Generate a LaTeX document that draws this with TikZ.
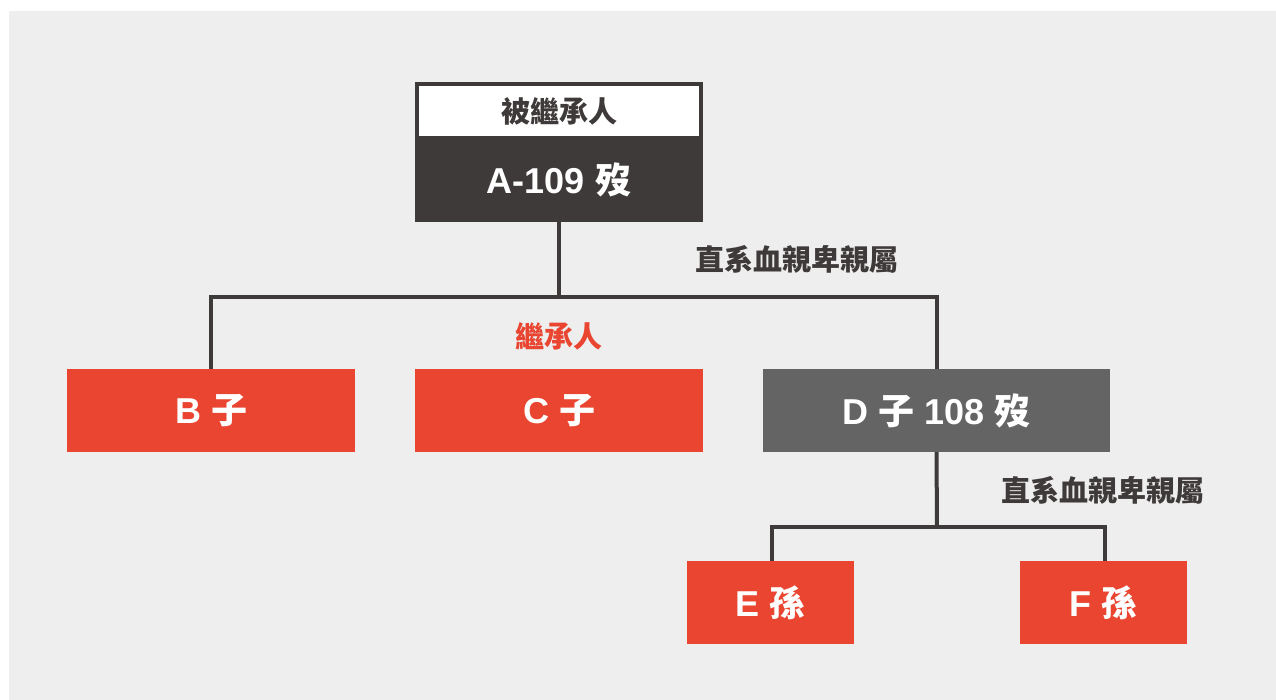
\documentclass[tikz,border=0pt]{standalone}
\usepackage{fontspec}
\setmainfont{Liberation Sans}
\newfontfamily\cjk{Noto Sans CJK TC}
\definecolor{bgc}{HTML}{EEEEEE}
\definecolor{darkc}{HTML}{3E3A39}
\definecolor{redc}{HTML}{E94530}
\definecolor{grayc}{HTML}{646464}
\tikzset{
  box/.style={inner sep=0pt, minimum height=83pt, text=white, font=\fontsize{36}{40}\selectfont\bfseries},
  redbox/.style={box, fill=redc},
  conn/.style={draw=darkc, line width=4pt},
  lbl/.style={inner sep=0pt, text=darkc, font=\fontsize{29}{32}\selectfont\cjk\bfseries},
}
\begin{document}
\begin{tikzpicture}[x=1pt,y=-1pt]
\useasboundingbox (0,0) rectangle (1276,700);
\fill[white] (0,0) rectangle (1276,700);
\fill[bgc] (9,11) rectangle (1276,700);
% top
\node[draw=darkc, fill=white, line width=4pt, minimum width=284pt, minimum height=54pt, inner sep=0pt, text=darkc, font=\fontsize{29}{32}\selectfont\cjk\bfseries] (T) at (559,111) {被繼承人};
\node[box, fill=darkc, minimum width=288pt, minimum height=84pt] (A) at (559,180) {A-109 {\cjk 歿}};
% children
\node[redbox, minimum width=288pt] (B) at (211,410.5) {B {\cjk 子}};
\node[redbox, minimum width=288pt] (C) at (559,410.5) {C {\cjk 子}};
\node[box, fill=grayc, minimum width=347pt] (D) at (936.5,410.5) {D {\cjk 子} 108 {\cjk 歿}};
\node[redbox, minimum width=167pt] (E) at (770.5,602.5) {E {\cjk 孫}};
\node[redbox, minimum width=167pt] (F) at (1103.5,602.5) {F {\cjk 孫}};
% labels
\node[lbl] (L1) at (797,259) {直系血親卑親屬};
\node[lbl, text=redc] (L2) at (559,336) {繼承人};
\node[lbl] (L3) at (1103,490) {直系血親卑親屬};
% connectors
\coordinate (j1) at (559,297);
\coordinate (j2) at (937,527);
\draw[conn] (A.south) -- (j1);
\draw[conn] (B.north) |- (j1) -| (D.north);
\draw[conn] (D.south) -- (j2);
\draw[conn] ([xshift=1.5pt]E.north) |- (j2) -| ([xshift=1.5pt]F.north);
\end{tikzpicture}
\end{document}
